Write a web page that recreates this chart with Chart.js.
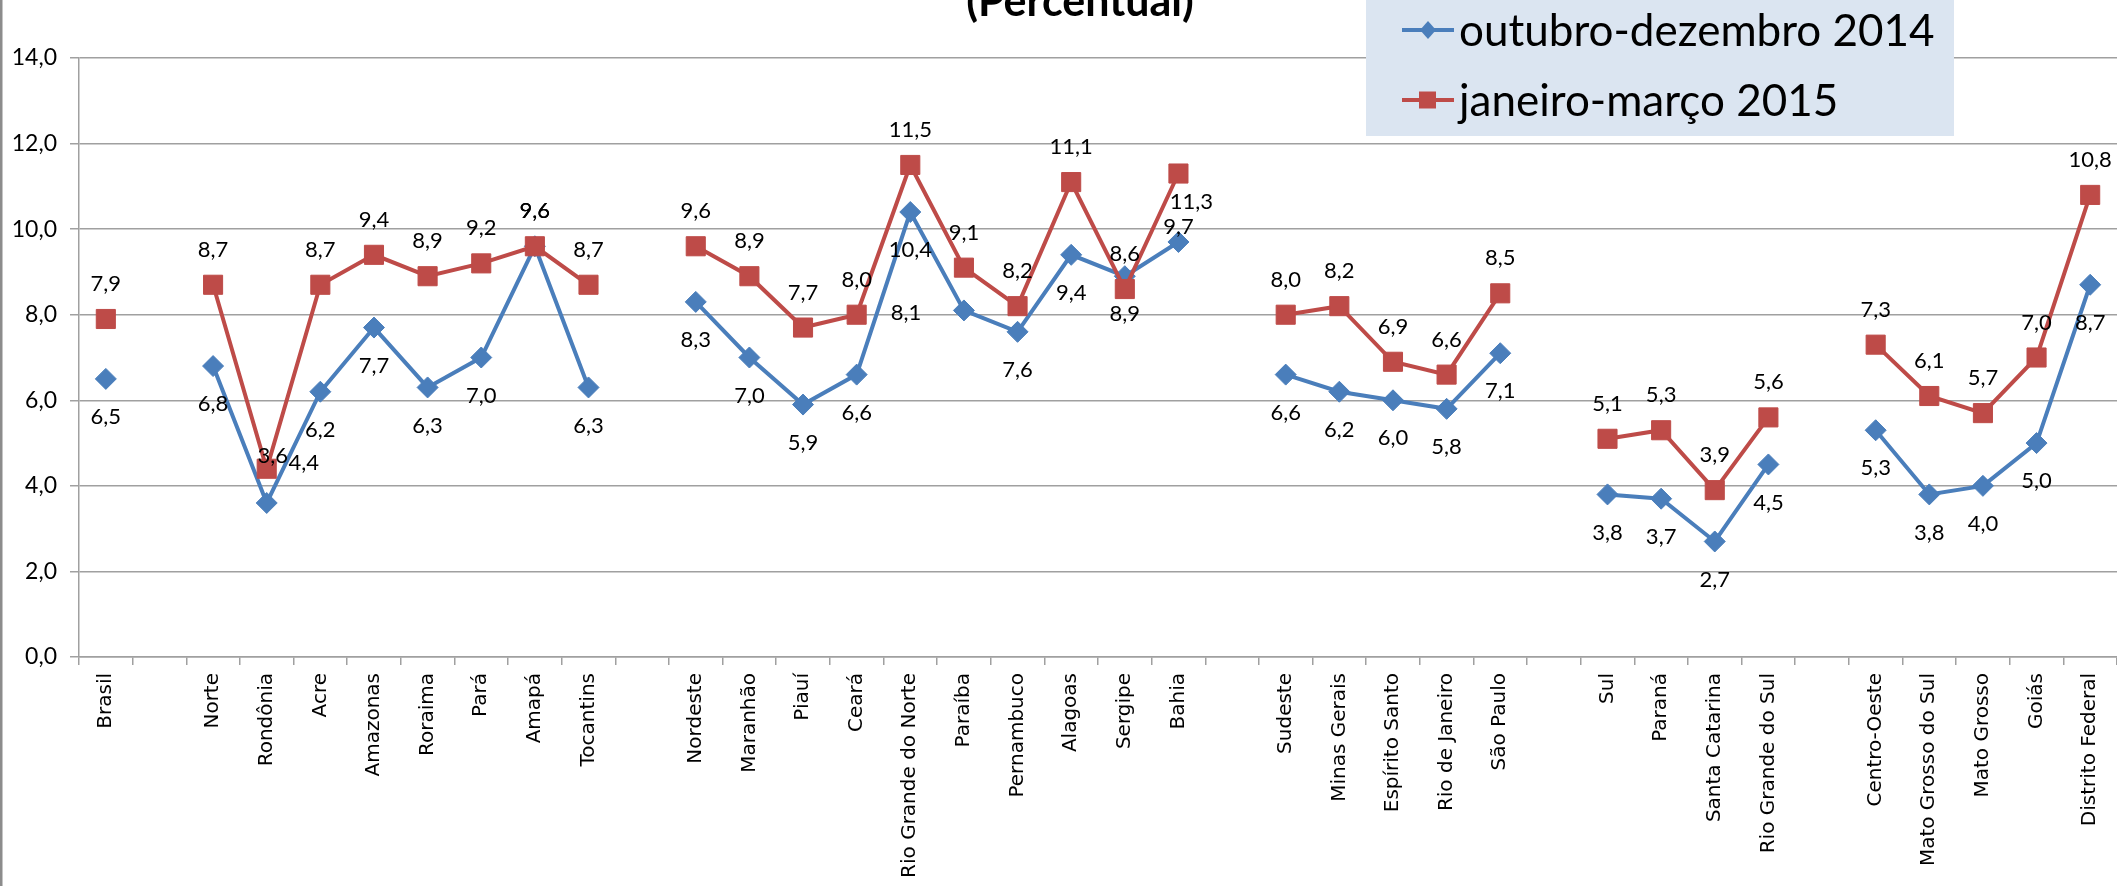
<!DOCTYPE html>
<html lang="pt-BR">
<head>
  <meta charset="UTF-8">
  <title>Taxa de desocupação (Percentual)</title>
  <script src="https://cdn.jsdelivr.net/npm/chart.js"></script>
  <style>
    html, body { margin: 0; padding: 0; background: #fff; overflow: hidden; }
    #wrap { position: relative; width: 2117px; height: 886px; }
  </style>
</head>
<body>
  <div id="wrap"><canvas id="chart"></canvas></div>

  <script>
    // Brasil, regions and states ('' = empty slot between regions)
    const categories = [
      'Brasil', '',
      'Norte', 'Rondônia', 'Acre', 'Amazonas', 'Roraima', 'Pará', 'Amapá', 'Tocantins', '',
      'Nordeste', 'Maranhão', 'Piauí', 'Ceará', 'Rio Grande do Norte', 'Paraíba', 'Pernambuco', 'Alagoas', 'Sergipe', 'Bahia', '',
      'Sudeste', 'Minas Gerais', 'Espírito Santo', 'Rio de Janeiro', 'São Paulo', '',
      'Sul', 'Paraná', 'Santa Catarina', 'Rio Grande do Sul', '',
      'Centro-Oeste', 'Mato Grosso do Sul', 'Mato Grosso', 'Goiás', 'Distrito Federal'
    ];
    const outDez2014 = [
      6.5, null,
      6.8, 3.6, 6.2, 7.7, 6.3, 7.0, 9.6, 6.3, null,
      8.3, 7.0, 5.9, 6.6, 10.4, 8.1, 7.6, 9.4, 8.9, 9.7, null,
      6.6, 6.2, 6.0, 5.8, 7.1, null,
      3.8, 3.7, 2.7, 4.5, null,
      5.3, 3.8, 4.0, 5.0, 8.7
    ];
    const janMar2015 = [
      7.9, null,
      8.7, 4.4, 8.7, 9.4, 8.9, 9.2, 9.6, 8.7, null,
      9.6, 8.9, 7.7, 8.0, 11.5, 9.1, 8.2, 11.1, 8.6, 11.3, null,
      8.0, 8.2, 6.9, 6.6, 8.5, null,
      5.1, 5.3, 3.9, 5.6, null,
      7.3, 6.1, 5.7, 7.0, 10.8
    ];
    const seriesNames = ['outubro-dezembro 2014', 'janeiro-março 2015'];
    const yMin = 0, yMax = 14, yStep = 2;

    const BLUE = '#4a7ebb';
    const RED = '#be4b48';
    const GRID = '#a0a0a0';

    // value labels: blue goes below, red above, except where the original moved them
    const labelShift = [
      { 3: [6, -47], 8: [0, -35], 16: [-58, 2], 20: [0, -15] },
      { 3: [37, -6], 20: [13, 28] }
    ];
    const defaultShift = [[0, 38], [0, -35]];

    const fmt = v => v.toFixed(1).replace('.', ',');

    const valueLabels = {
      id: 'valueLabels',
      afterDatasetsDraw(chart) {
        const ctx = chart.ctx;
        ctx.save();
        ctx.font = '22px Lato';
        ctx.fillStyle = '#000';
        ctx.textAlign = 'center';
        ctx.textBaseline = 'middle';
        chart.data.datasets.forEach((ds, d) => {
          const meta = chart.getDatasetMeta(d);
          ds.data.forEach((v, i) => {
            if (v === null) return;
            const pt = meta.data[i];
            const s = labelShift[d][i] || defaultShift[d];
            ctx.fillText(fmt(v), pt.x + s[0], pt.y + s[1]);
          });
        });
        ctx.restore();
      }
    };

    const decorations = {
      id: 'decorations',
      afterDraw(chart) {
        const ctx = chart.ctx;
        ctx.save();
        // outer frame edge on the left
        ctx.fillStyle = '#8c8c8c';
        ctx.fillRect(0, 0, 2.5, chart.height);

        // title, cut by the top of the picture
        ctx.fillStyle = '#000';
        ctx.font = 'bold 43px Lato';
        ctx.textAlign = 'center';
        ctx.textBaseline = 'alphabetic';
        ctx.fillText('(Percentual)', 1080, 16);

        // legend box
        ctx.fillStyle = '#dbe5f1';
        ctx.fillRect(1366, 0, 588, 136);
        const rows = [
          { y: 30, color: BLUE, marker: 'diamond', text: seriesNames[0] },
          { y: 100, color: RED, marker: 'square', text: seriesNames[1] }
        ];
        rows.forEach(r => {
          ctx.strokeStyle = r.color;
          ctx.lineWidth = 4;
          ctx.beginPath();
          ctx.moveTo(1402, r.y);
          ctx.lineTo(1454, r.y);
          ctx.stroke();
          ctx.fillStyle = r.color;
          ctx.beginPath();
          if (r.marker === 'diamond') {
            ctx.moveTo(1428, r.y - 9);
            ctx.lineTo(1436, r.y);
            ctx.lineTo(1428, r.y + 9);
            ctx.lineTo(1420, r.y);
            ctx.closePath();
          } else {
            ctx.rect(1419, r.y - 8.5, 17, 17);
          }
          ctx.fill();
          ctx.fillStyle = '#000';
          ctx.font = '44px Lato';
          ctx.textAlign = 'left';
          ctx.textBaseline = 'middle';
          ctx.fillText(r.text, 1459, r.y + 2);
        });
        ctx.restore();
      }
    };

    new Chart(document.getElementById('chart'), {
      type: 'line',
      data: {
        labels: categories,
        datasets: [
          {
            label: seriesNames[0],
            data: outDez2014,
            borderColor: BLUE,
            backgroundColor: BLUE,
            borderWidth: 4,
            pointStyle: 'rectRot',
            pointRadius: 10.5,
            pointBorderWidth: 1,
            pointBackgroundColor: BLUE,
            pointBorderColor: BLUE,
            tension: 0,
            spanGaps: false,
            clip: false,
            order: 2
          },
          {
            label: seriesNames[1],
            data: janMar2015,
            borderColor: RED,
            backgroundColor: RED,
            borderWidth: 4,
            pointStyle: 'rect',
            pointRadius: 13.5,
            pointBorderWidth: 1,
            pointBackgroundColor: RED,
            pointBorderColor: RED,
            tension: 0,
            spanGaps: false,
            clip: false,
            order: 1
          }
        ]
      },
      options: {
        responsive: true,
        maintainAspectRatio: false,
        devicePixelRatio: 1,
        animation: false,
        layout: {
          autoPadding: false,
          padding: { top: 58, right: 0, bottom: 0, left: 0 }
        },
        plugins: {
          legend: { display: false },
          tooltip: { enabled: false }
        },
        scales: {
          x: {
            offset: true,
            afterFit(scale) {
              scale.height = 229;
              scale.paddingLeft = 0;
              scale.paddingRight = 0;
            },
            grid: {
              offset: true,
              drawOnChartArea: false,
              tickLength: 8,
              color: GRID,
              lineWidth: 1.5
            },
            border: { color: GRID, width: 1.5 },
            ticks: {
              autoSkip: false,
              minRotation: 90,
              maxRotation: 90,
              padding: 8,
              color: '#000',
              font: { family: 'DejaVu Sans', size: 20 }
            }
          },
          y: {
            min: yMin,
            max: yMax,
            afterFit(scale) { scale.width = 79; },
            grid: { color: GRID, lineWidth: 1.5, tickLength: 9 },
            border: { color: GRID, width: 1.5 },
            ticks: {
              stepSize: yStep,
              padding: 13,
              color: '#000',
              font: { family: 'Lato', size: 23 },
              callback: v => fmt(v)
            }
          }
        }
      },
      plugins: [valueLabels, decorations]
    });
  </script>
</body>
</html>
